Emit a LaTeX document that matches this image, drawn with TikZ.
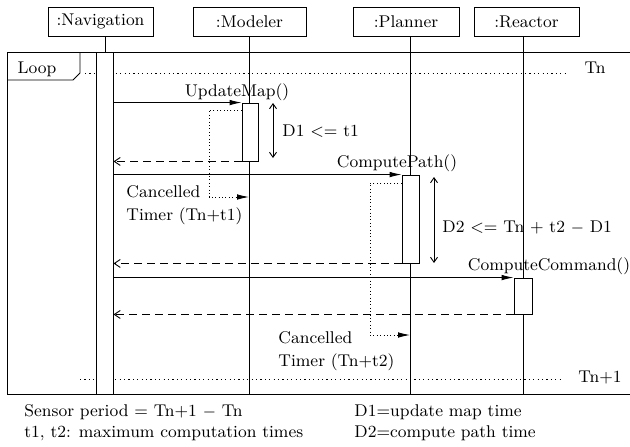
\documentclass[tikz,border=0pt]{standalone}
\usepackage{tikz}
\usetikzlibrary{arrows.meta}
\usetikzlibrary{positioning}

\tikzset{
    objbox/.style = {draw, minimum height=14.5pt, inner sep=1pt},
    actbox/.style = {draw, fill=white, inner sep=0pt},
    call/.style = {-{Latex[length=6pt, width=2.8pt]}},
    reply/.style = {dash pattern=on 4pt off 2.5pt, -{Straight Barb[length=3pt, width=4pt]}},
    timer/.style = {dash pattern=on 0.5pt off 1.2pt, -{Latex[length=6pt, width=2.8pt]}},
    span/.style = {{Straight Barb[length=2.5pt, width=3.5pt]}-{Straight Barb[length=2.5pt, width=3.5pt]}},
    tick/.style = {dash pattern=on 0.6pt off 1.6pt},
    txt/.style = {inner sep=0pt, font=\fontsize{8.5}{10.5}\selectfont}
}

\begin{document}
\begin{tikzpicture}[x=0.5pt, y=-0.5pt, line width=0.45pt]
    \useasboundingbox (0,0) rectangle (630,446);

    % objects
    \node[objbox, minimum width=52.5pt, txt] (nav)   at (100.5,21.5) {:Navigation};
    \node[objbox, minimum width=56.5pt, txt] (mod)   at (249.5,21.5) {:Modeler};
    \node[objbox, minimum width=53pt,   txt] (plan)  at (406,21.5)   {:Planner};
    \node[objbox, minimum width=52.5pt, txt] (react) at (526.5,21.5) {:Reactor};

    % frame
    \draw (630,52) -- (7,52) -- (7,394) -- (630,394);
    \draw (7,80) -- (73,80) -- (80,73) -- (80,52);
    \node[txt] (loop) at (37,69) {Loop};

    % period marks
    \coordinate (tnA) at (85,73);
    \coordinate (tnB) at (565,73);
    \coordinate (tmA) at (80,379);
    \coordinate (tmB) at (560,379);
    \draw[tick] (tnA) -- (tnB);
    \draw[tick] (tmA) -- (tmB);
    \node[txt] (tn)  at (595,68)  {Tn};
    \node[txt] (tn1) at (600,378) {Tn+1};

    % lifelines
    \coordinate (navtop)   at (105,36);
    \coordinate (navbot)   at (105,52);
    \coordinate (modtop)   at (249,36);
    \coordinate (modbot)   at (249,394);
    \coordinate (plantop)  at (410,36);
    \coordinate (planbot)  at (410,394);
    \coordinate (reacttop) at (523,36);
    \coordinate (reactbot) at (523,394);
    \draw (navtop) -- (navbot);
    \draw (modtop) -- (modbot);
    \draw (plantop) -- (planbot);
    \draw (reacttop) -- (reactbot);

    % activations
    \node[actbox, minimum width=8.5pt, minimum height=171pt] (navact)   at (104.5,223) {};
    \node[actbox, minimum width=8pt,   minimum height=29pt]  (modact)   at (250,132)   {};
    \node[actbox, minimum width=8.5pt, minimum height=44pt]  (planact)  at (410.5,219) {};
    \node[actbox, minimum width=9pt,   minimum height=18pt]  (reactact) at (523,296)   {};

    % messages
    \draw[call]  (navact.east |- modact.north) -- (modact.north west);
    \draw[reply] (modact.south west) -- (navact.east |- modact.south);
    \draw[call]  (navact.east |- planact.north) -- (planact.north west);
    \draw[reply] (planact.south west) -- (navact.east |- planact.south);
    \draw[call]  (navact.east |- reactact.north) -- (reactact.north west);
    \draw[reply] (reactact.south west) -- (navact.east |- reactact.south);
    \node[txt] (upd)  at (237,92)  {UpdateMap()};
    \node[txt] (cpth) at (397,163) {ComputePath()};
    \node[txt] (ccmd) at (549,266) {ComputeCommand()};

    % timers
    \coordinate (ta) at (209,110);
    \coordinate (tb) at (209,197);
    \coordinate (tc) at (249,197);
    \draw[timer] (modact.west |- ta) -- (ta) -- (tb) -- (tc);
    \coordinate (td) at (370,183);
    \coordinate (te) at (370,335);
    \coordinate (tf) at (410,335);
    \draw[timer] (planact.west |- td) -- (td) -- (te) -- (tf);
    \node[txt, anchor=west, align=left, font=\fontsize{8.5}{11.5}\selectfont] (can1) at (126,205.5) {Cancelled\\Timer (Tn+t1)};
    \node[txt, anchor=west, align=left, font=\fontsize{8.5}{11.5}\selectfont] (can2) at (278,351.5) {Cancelled\\Timer (Tn+t2)};

    % durations
    \coordinate (d1a) at (273,103);
    \coordinate (d1b) at (273,158);
    \coordinate (d2a) at (434,177);
    \coordinate (d2b) at (434,263);
    \draw[span] (d1a) -- (d1b);
    \draw[span] (d2a) -- (d2b);
    \node[txt, anchor=west] (d1) at (282,131) {D1 <= t1};
    \node[txt, anchor=west] (d2) at (442,228) {D2 <= Tn + t2 $-$ D1};

    % notes
    \node[txt, anchor=west, align=left] (note1) at (24,422.5) {Sensor period = Tn+1 $-$ Tn\\t1, t2: maximum computation times};
    \node[txt, anchor=west, align=left] (note2) at (354,422.5) {D1=update map time\\D2=compute path time};
\end{tikzpicture}
\end{document}
